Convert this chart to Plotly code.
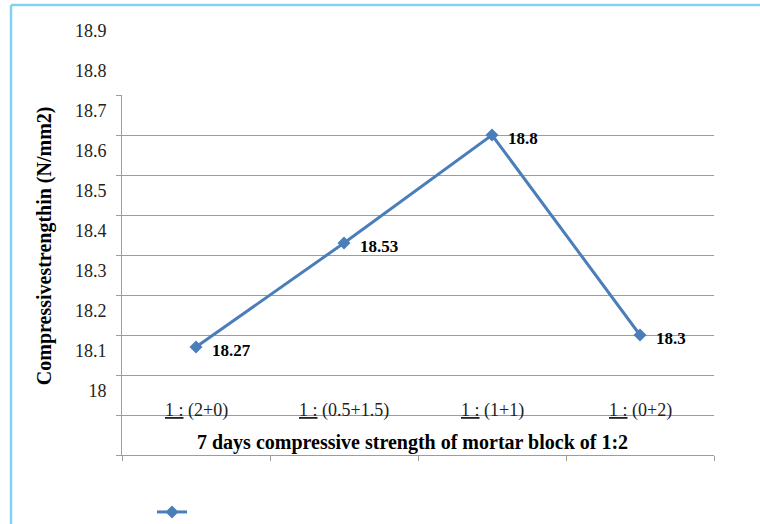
import plotly.graph_objects as go

# Mix proportions (cement : fine aggregate blend) and 7-day strengths
mixes = ["1 : (2+0)", "1 : (0.5+1.5)", "1 : (1+1)", "1 : (0+2)"]
strength = [18.27, 18.53, 18.8, 18.3]
y_ticks = [18.0, 18.1, 18.2, 18.3, 18.4, 18.5, 18.6, 18.7, 18.8, 18.9]
label_row = 18.1  # category names sit on this gridline

LINE_BLUE = "#4a7ebb"
GRID = "#9c9c9c"
SERIF = "Liberation Serif"


def mix_label(text):
    ratio, rest = text.split(" (", 1)
    return ("<span style='text-decoration:underline;text-decoration-color:#2d4fd6;"
            "text-decoration-style:wavy'>" + ratio + "</span> (" + rest)


fig = go.Figure()
fig.add_trace(go.Scatter(
    x=mixes, y=strength, mode="lines+markers", name="",
    line=dict(color=LINE_BLUE, width=3),
    marker=dict(symbol="diamond", size=10, color=LINE_BLUE),
    showlegend=True,
))

# value labels beside each point
for m, v in zip(mixes, strength):
    fig.add_annotation(
        x=m, y=v, text="<b>%s</b>" % v, showarrow=False,
        xanchor="left", yanchor="middle", xshift=14, yshift=-3,
        font=dict(family=SERIF, size=17, color="#000"),
    )

# category names drawn inside the plot, resting on the 18.1 gridline
for m in mixes:
    fig.add_annotation(
        x=m, y=label_row, text=mix_label(m), showarrow=False,
        xanchor="center", yanchor="middle", yshift=5,
        font=dict(family=SERIF, size=18, color="#222"),
    )

# horizontal axis caption sitting just above the bottom line
fig.add_annotation(
    xref="paper", yref="paper", x=0.49, y=0, yanchor="middle", yshift=13,
    text="<b>7 days compressive strength of mortar block of 1:2</b>",
    showarrow=False, font=dict(family=SERIF, size=20, color="#000"),
)

# vertical axis caption
fig.add_annotation(
    xref="paper", yref="paper", x=0, y=0.58, xshift=-78,
    xanchor="center", yanchor="middle", textangle=-90,
    text="<b>Compressivestrengthin (N/mm2)</b>",
    showarrow=False, font=dict(family=SERIF, size=20, color="#000"),
)

fig.update_layout(
    width=760, height=524,
    margin=dict(l=122, r=46, t=95, b=69, autoexpand=False),
    paper_bgcolor="white", plot_bgcolor="white",
    font=dict(family=SERIF, size=17, color="#000"),
    legend=dict(xref="container", yref="container", x=0.2, y=0.023,
                xanchor="left", yanchor="middle",
                bgcolor="rgba(0,0,0,0)", font=dict(size=12)),
    shapes=[
        dict(type="line", xref="paper", yref="paper", x0=-0.1875, x1=-0.1875,
             y0=-1, y1=1.25, line=dict(color="#7fd2f2", width=2.5)),
        dict(type="line", xref="paper", yref="paper", x0=-0.1875, x1=2,
             y0=1.25, y1=1.25, line=dict(color="#7fd2f2", width=2.5)),
    ],
)

fig.update_xaxes(
    type="category", categoryorder="array", categoryarray=mixes,
    range=[-0.5, 3.5], tickson="boundaries", showticklabels=False,
    ticks="outside", ticklen=5, tickcolor=GRID,
    showline=True, linecolor=GRID, linewidth=1, showgrid=False,
    zeroline=False, fixedrange=True,
)

fig.update_yaxes(
    range=[18.0, 18.9], tickvals=y_ticks,
    ticktext=[("%g" % t) for t in y_ticks],
    ticks="outside", ticklen=5, tickcolor=GRID,
    showline=True, linecolor=GRID, linewidth=1,
    showgrid=True, gridcolor=GRID, gridwidth=1,
    ticklabelshift=-64, ticklabelstandoff=6, ticklabeloverflow="allow",
    tickfont=dict(family=SERIF, size=18, color="#222"),
    zeroline=False, fixedrange=True,
)

fig.write_html("out.html")
